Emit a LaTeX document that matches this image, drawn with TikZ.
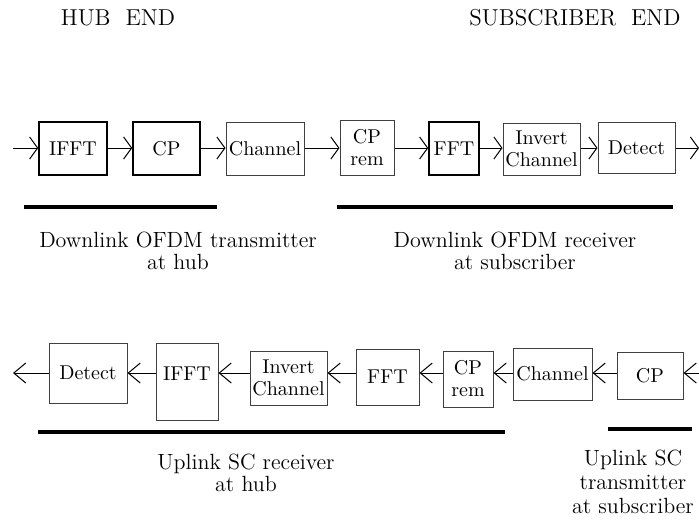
\documentclass[tikz,border=0pt]{standalone}
\usetikzlibrary{arrows.meta}

\begin{document}
\begin{tikzpicture}[x=0.5pt,y=-0.5pt,%
  box/.style={draw=black!75,line width=0.5pt,inner sep=0pt,align=center,font=\fontsize{10}{11}\selectfont},%
  dbox/.style={box,draw=black,line width=0.75pt},%
  fwd/.style={line width=0.5pt,-{Straight Barb[length=4pt,width=11pt]}},%
  bwd/.style={line width=0.5pt,-{Straight Barb[length=6pt,width=10pt]}},%
  groupbar/.style={line width=2pt},%
  capt/.style={align=center,font=\fontsize{11}{11}\selectfont},%
  headline/.style={font=\fontsize{11.5}{12}\selectfont}]%
\useasboundingbox (0,0) rectangle (699,519);%
% ends
\node[headline] (hub) at (118,18) {HUB\ \ END};%
\node[headline] (sub) at (575,18) {SUBSCRIBER\ \ END};%
% downlink
\coordinate (tin) at (13,148);%
\coordinate (tout) at (699,148);%
\node[dbox,minimum width=34pt,minimum height=26.5pt] (tifft) at (73,148.5) {IFFT};%
\node[dbox,minimum width=33.5pt,minimum height=26.5pt] (tcp) at (166.5,148.5) {CP};%
\node[box,minimum width=39pt,minimum height=26.5pt] (tchan) at (265,148.5) {Channel};%
\node[box,minimum width=27pt,minimum height=27.5pt] (tcprem) at (367,147.5) {CP\\rem};%
\node[dbox,minimum width=25pt,minimum height=26.5pt] (tfft) at (454,148.5) {FFT};%
\node[box,minimum width=38.5pt,minimum height=26pt] (tinv) at (541.5,149) {Invert\\Channel};%
\node[box,minimum width=38.5pt,minimum height=25.5pt] (tdet) at (636.5,147.5) {Detect};%
\draw[fwd] (tin) -- (tifft.west |- tin);%
\draw[fwd] (tifft.east |- tin) -- (tcp.west |- tin);%
\draw[fwd] (tcp.east |- tin) -- (tchan.west |- tin);%
\draw[fwd] (tchan.east |- tin) -- (tcprem.west |- tin);%
\draw[fwd] (tcprem.east |- tin) -- (tfft.west |- tin);%
\draw[fwd] (tfft.east |- tin) -- (tinv.west |- tin);%
\draw[fwd] (tinv.east |- tin) -- (tdet.west |- tin);%
\draw[fwd] (tdet.east |- tin) -- (tout);%
\draw[groupbar] (24,207) -- (217,207);%
\draw[groupbar] (337,207) -- (673,207);%
\node[capt] (txcap) at (178,251) {Downlink OFDM transmitter\\at hub};%
\node[capt] (rxcap) at (515,251) {Downlink OFDM receiver\\at subscriber};%
% uplink
\coordinate (bin) at (699,373);%
\coordinate (bout) at (13,373);%
\node[box,minimum width=39pt,minimum height=30pt] (bdet) at (88,373) {Detect};%
\node[box,minimum width=31pt,text height=18.5pt,text depth=20pt] (bifft) at (187,381.5) {IFFT};%
\node[box,minimum width=38.5pt,minimum height=27pt] (binv) at (288.5,378) {Invert\\Channel};%
\node[box,minimum width=31.5pt,minimum height=28pt] (bfft) at (387.5,377) {FFT};%
\node[box,minimum width=25pt,minimum height=28pt] (bcprem) at (468,379) {CP\\rem};%
\node[box,minimum width=39.5pt,minimum height=26pt] (bchan) at (552.5,374) {Channel};%
\node[box,minimum width=33pt,minimum height=23.5pt] (bcp) at (650,375.5) {CP};%
\draw[bwd] (bin) -- (bcp.east |- bin);%
\draw[bwd] (bcp.west |- bin) -- (bchan.east |- bin);%
\draw[bwd] (bchan.west |- bin) -- (bcprem.east |- bin);%
\draw[bwd] (bcprem.west |- bin) -- (bfft.east |- bin);%
\draw[bwd] (bfft.west |- bin) -- (binv.east |- bin);%
\draw[bwd] (binv.west |- bin) -- (bifft.east |- bin);%
\draw[bwd] (bifft.west |- bin) -- (bdet.east |- bin);%
\draw[bwd] (bdet.west |- bin) -- (bout);%
\draw[groupbar] (38,432) -- (505,432);%
\draw[groupbar] (608,429) -- (692,429);%
\node[capt] (brxcap) at (246,473) {Uplink SC receiver\\at hub};%
\node[capt,font=\fontsize{11}{12}\selectfont] (btxcap) at (633,482) {Uplink SC\\transmitter\\at subscriber};%
\end{tikzpicture}
\end{document}
